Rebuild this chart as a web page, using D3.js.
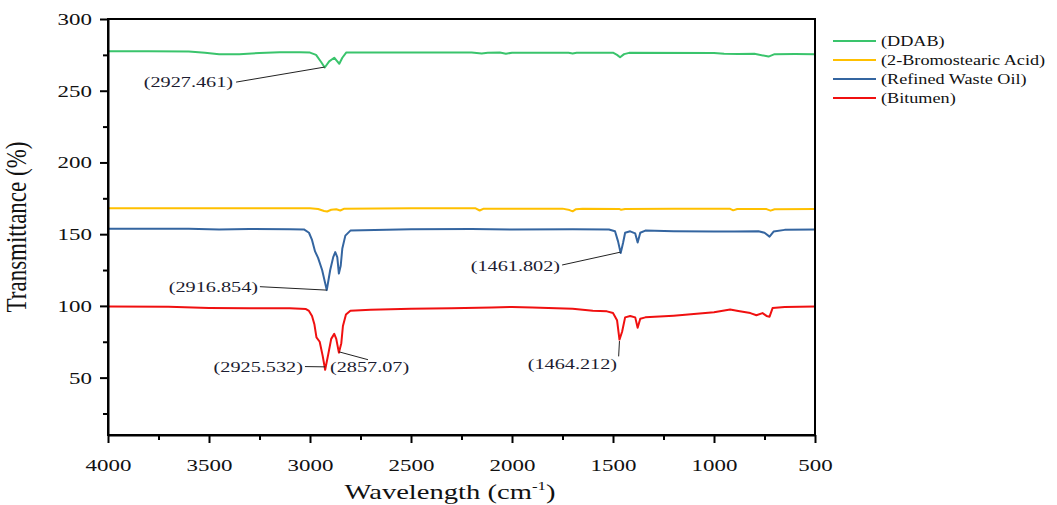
<!DOCTYPE html>
<html>
<head>
<meta charset="utf-8">
<script src="https://cdn.jsdelivr.net/npm/d3@7"></script>
<style>
  body { margin: 0; background: #fff; }
  text { font-family: "Liberation Serif", "Times New Roman", serif; }
</style>
</head>
<body>
<div id="chart"></div>
<script>
// spectra as [wavenumber, transmittance]
const ddab = [[4000,277.6],[3800,277.6],[3600,277.4],[3520,276.5],[3450,275.5],[3350,275.4],[3250,276.3],[3150,276.8],[3050,276.9],[3000,276.6],[2970,275],[2945,270],[2927,266.2],[2905,270.5],[2880,273],[2868,271],[2855,268.8],[2840,273],[2820,276.7],[2600,276.7],[2200,276.6],[2150,276],[2120,276.5],[2060,276.6],[2030,275.8],[2000,276.5],[1800,276.5],[1720,276.5],[1700,276],[1680,276.5],[1500,276.5],[1480,275],[1465,273.3],[1445,275.5],[1420,276.4],[1000,276.3],[950,275.8],[880,275.6],[800,275.8],[730,273.8],[700,275.5],[600,275.6],[500,275.4]];
const bromo = [[4000,168],[3500,168],[3000,168],[2960,167.6],[2930,166.2],[2915,165.8],[2895,167],[2870,167.4],[2850,166.5],[2830,167.8],[2500,168],[2180,168],[2160,166.5],[2140,167.8],[2000,167.7],[1750,167.8],[1715,166.8],[1700,165.9],[1685,167.3],[1650,167.8],[1470,167.6],[1460,167],[1440,167.6],[1200,167.7],[920,167.7],[905,166.6],[885,167.5],[740,167.5],[720,166.4],[700,167.4],[500,167.5]];
const wasteOil = [[4000,153.8],[3600,153.7],[3450,153.3],[3300,153.6],[3100,153.5],[3030,153.3],[3005,151],[2990,146],[2975,138],[2960,133.5],[2940,125],[2917,111],[2900,125],[2885,134],[2875,137.5],[2865,134],[2857,122.5],[2848,128],[2840,140],[2825,149],[2800,152.5],[2500,153.5],[2200,153.6],[2000,153.3],[1700,153.4],[1520,153.2],[1490,152],[1475,145],[1462,136.8],[1450,144],[1440,151],[1415,152],[1390,150.5],[1378,144.2],[1365,151],[1340,152.5],[1200,152],[1000,151.8],[900,151.8],[780,152],[750,151],[725,148.3],[705,151.8],[650,153],[500,153.3]];
const bitumen = [[4000,99.6],[3700,99.4],[3500,98.6],[3300,98.4],[3100,98.3],[3020,97.8],[3005,96.5],[2990,93],[2978,87],[2968,78],[2952,75],[2937,65],[2925,55.5],[2910,66],[2895,77],[2880,80.5],[2870,77],[2857,67.4],[2845,74],[2837,86],[2822,94],[2800,96.7],[2700,97.3],[2500,98],[2300,98.3],[2100,98.8],[2000,99.3],[1900,98.8],[1700,98],[1600,96.7],[1530,96.2],[1500,95],[1480,90],[1468,76.5],[1455,82],[1440,92],[1415,93],[1390,92],[1378,84.8],[1365,91],[1340,92],[1200,93.2],[1000,95.5],[920,97.5],[880,96.5],[820,95],[790,93.5],[760,95],[740,93],[725,92.5],[710,98.5],[650,99.2],[500,99.6]];

const seriesNames = ["(DDAB)", "(2-Bromostearic Acid)", "(Refined Waste Oil)", "(Bitumen)"];
const seriesData = [ddab, bromo, wasteOil, bitumen];
const seriesColors = ["#3ac46c", "#ffc000", "#3465a0", "#f01010"];

const xTicks = [4000, 3500, 3000, 2500, 2000, 1500, 1000, 500];
const yTicks = [50, 100, 150, 200, 250, 300];

// peak labels: text, peak point, line start, label point (data coords)
const peakLabels = [
  {text: "(2927.461)", peak: [2927, 266.5], from: [3366, 256], at: [3381, 252.6], anchor: "end"},
  {text: "(2916.854)", peak: [2917, 111], from: [3248, 113.4], at: [3257, 109.5], anchor: "end"},
  {text: "(2925.532)", peak: [2925, 57.5], from: [3025, 57.7], at: [3035, 54], anchor: "end"},
  {text: "(2857.07)", peak: [2857, 68], from: [2713, 62.5], at: [2901, 54], anchor: "start"},
  {text: "(1461.802)", peak: [1462, 137.5], from: [1752, 128.5], at: [1762, 124.6], anchor: "end"},
  {text: "(1464.212)", peak: [1468, 75.5], from: [1472, 64.8], at: [1480, 55.8], anchor: "end"}
];

const W = 1057, H = 505;
const plot = {left: 108, right: 815, top: 19, bottom: 435};
const sx = 1.35; // the original picture is stretched sideways

const svg = d3.select("#chart").append("svg")
    .attr("width", W)
    .attr("height", H);
svg.append("rect").attr("width", W).attr("height", H).attr("fill", "#fff");

const x = d3.scaleLinear().domain([4000, 500]).range([plot.left, plot.right]);
const y = d3.scaleLinear().domain([10, 300]).range([plot.bottom, plot.top]);

const line = d3.line()
    .x(d => x(d[0]))
    .y(d => y(d[1]));

svg.append("g")
    .selectAll("path")
    .data(seriesData)
    .enter()
    .append("path")
    .attr("d", line)
    .attr("fill", "none")
    .attr("stroke", (d, i) => seriesColors[i])
    .attr("stroke-width", 2)
    .attr("stroke-linejoin", "round");

// frame
svg.append("rect")
    .attr("x", plot.left).attr("y", plot.top)
    .attr("width", plot.right - plot.left)
    .attr("height", plot.bottom - plot.top)
    .attr("fill", "none")
    .attr("stroke", "#000")
    .attr("stroke-width", 2);

// axes
const xAxis = svg.append("g")
    .attr("transform", `translate(0,${plot.bottom})`)
    .call(d3.axisBottom(x).tickValues(xTicks).tickFormat(d3.format("d")).tickSize(8).tickSizeOuter(0));
svg.append("g")
    .attr("transform", `translate(0,${plot.bottom})`)
    .call(d3.axisBottom(x).tickValues(d3.range(3750, 500, -500)).tickFormat("").tickSize(5).tickSizeOuter(0))
    .select(".domain").remove();
const yAxis = svg.append("g")
    .attr("transform", `translate(${plot.left},0)`)
    .call(d3.axisLeft(y).tickValues(yTicks).tickSize(8).tickSizeOuter(0));
svg.append("g")
    .attr("transform", `translate(${plot.left},0)`)
    .call(d3.axisLeft(y).tickValues(d3.range(25, 300, 50)).tickFormat("").tickSize(5).tickSizeOuter(0))
    .select(".domain").remove();

svg.selectAll(".domain").attr("stroke-width", 2);
svg.selectAll(".tick line").attr("stroke-width", 2);
xAxis.selectAll(".tick text")
    .attr("font-size", 17)
    .attr("fill", "#111")
    .attr("y", 19)
    .attr("dy", "1em")
    .attr("transform", `scale(${sx},1)`);
yAxis.selectAll(".tick text")
    .attr("font-size", 17)
    .attr("fill", "#111")
    .attr("x", -16 / sx)
    .attr("transform", `scale(${sx},1)`);

// axis titles
svg.append("text")
    .attr("transform", `translate(26,${(plot.top + plot.bottom) / 2}) scale(1.3,1) rotate(-90)`)
    .attr("text-anchor", "middle")
    .attr("font-size", 23)
    .attr("fill", "#111")
    .text("Transmittance (%)");

const xt = svg.append("text")
    .attr("transform", `translate(450,499) scale(1.3,1)`)
    .attr("text-anchor", "middle")
    .attr("font-size", 22)
    .attr("fill", "#111");
xt.append("tspan").text("Wavelength (cm");
xt.append("tspan").attr("font-size", 13).attr("dy", -9).text("-1");
xt.append("tspan").attr("dy", 9).text(")");

// peak labels
const ann = svg.append("g");
peakLabels.forEach(p => {
    ann.append("line")
        .attr("x1", x(p.from[0])).attr("y1", y(p.from[1]))
        .attr("x2", x(p.peak[0])).attr("y2", y(p.peak[1]))
        .attr("stroke", "#222")
        .attr("stroke-width", 1);
    ann.append("text")
        .attr("transform", `translate(${x(p.at[0])},${y(p.at[1])}) scale(${sx},1)`)
        .attr("text-anchor", p.anchor)
        .attr("font-size", 15)
        .attr("fill", "#1c1c30")
        .text(p.text);
});

// legend
const legend = svg.append("g").attr("transform", "translate(833,41)");
seriesNames.forEach((name, i) => {
    const row = legend.append("g").attr("transform", `translate(0,${i * 19})`);
    row.append("line")
        .attr("x1", 0).attr("x2", 43)
        .attr("stroke", seriesColors[i])
        .attr("stroke-width", 2);
    row.append("text")
        .attr("transform", `translate(48,5) scale(1.3,1)`)
        .attr("font-size", 14)
        .attr("fill", "#111")
        .text(name);
});
</script>
</body>
</html>
